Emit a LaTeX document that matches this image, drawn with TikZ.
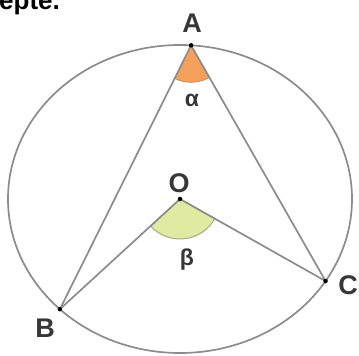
\documentclass[tikz,border=0pt]{standalone}
\usepackage{fontspec}
\setmainfont{Liberation Sans}
\usepackage{tikz}
\usetikzlibrary{calc}
\definecolor{lineGray}{RGB}{140, 140, 140}
\definecolor{labelDark}{RGB}{55, 55, 55}
\definecolor{alphaOrange}{RGB}{245, 160, 90}
\definecolor{betaGreen}{RGB}{224, 234, 160}
\definecolor{betaEdge}{RGB}{170, 170, 130}

\begin{document}
\begin{tikzpicture}[
    x=1pt, y=1pt,
    chord/.style={
        draw=lineGray,
        line width=1.7pt
    },
    dot/.style={
        circle,
        fill=black,
        inner sep=0pt,
        minimum size=4.5pt
    },
    point/.style={
        font=\fontsize{27}{30}\selectfont\bfseries,
        text=labelDark,
        inner sep=0pt
    },
    greek/.style={
        font=\fontsize{23}{26}\selectfont\bfseries,
        text=labelDark,
        inner sep=0pt
    }
]

% Frame
\useasboundingbox[fill=white] (0,0) rectangle (359,356);

% Cut caption at the top
\node[anchor=base west, inner sep=0pt, font=\fontsize{26}{30}\selectfont\bfseries] (caption) at (-1,346) {epte.};

% Circle
\coordinate (O) at (180,157);
\draw[chord] (O) ellipse [x radius=172, y radius=154];

% Points on the circle
\coordinate (A) at ($(O)+(86.3:172pt and 154pt)$);
\coordinate (B) at ($(O)+(225.7:172pt and 154pt)$);
\coordinate (C) at ($(O)+(-32.2:172pt and 154pt)$);

% Angles
\filldraw[fill=alphaOrange, draw=alphaOrange!80!black, line width=0.6pt]
    (A) -- ++(243.6:37) arc[start angle=243.6, end angle=299.7, radius=37] -- cycle;
\filldraw[fill=betaGreen, draw=betaEdge, line width=1pt]
    (O) -- ++(222.5:40) arc[start angle=222.5, end angle=330.6, radius=40] -- cycle;

% Sides
\draw[chord] (A) -- (B);
\draw[chord] (A) -- (C);
\draw[chord] (O) -- (B);
\draw[chord] (O) -- (C);

% Dots
\node[dot] (dotA) at (A) {};
\node[dot] (dotB) at (B) {};
\node[dot] (dotC) at (C) {};
\node[dot] (dotO) at (O) {};

% Labels
\node[point] (labelA) at (192,333) {A};
\node[point] (labelO) at (179,173) {O};
\node[point] (labelB) at (45,28) {B};
\node[point] (labelC) at (348,71) {C};
\node[greek] (alpha) at (192,256) {α};
\node[greek] (beta) at (187,96) {β};

\end{tikzpicture}
\end{document}
